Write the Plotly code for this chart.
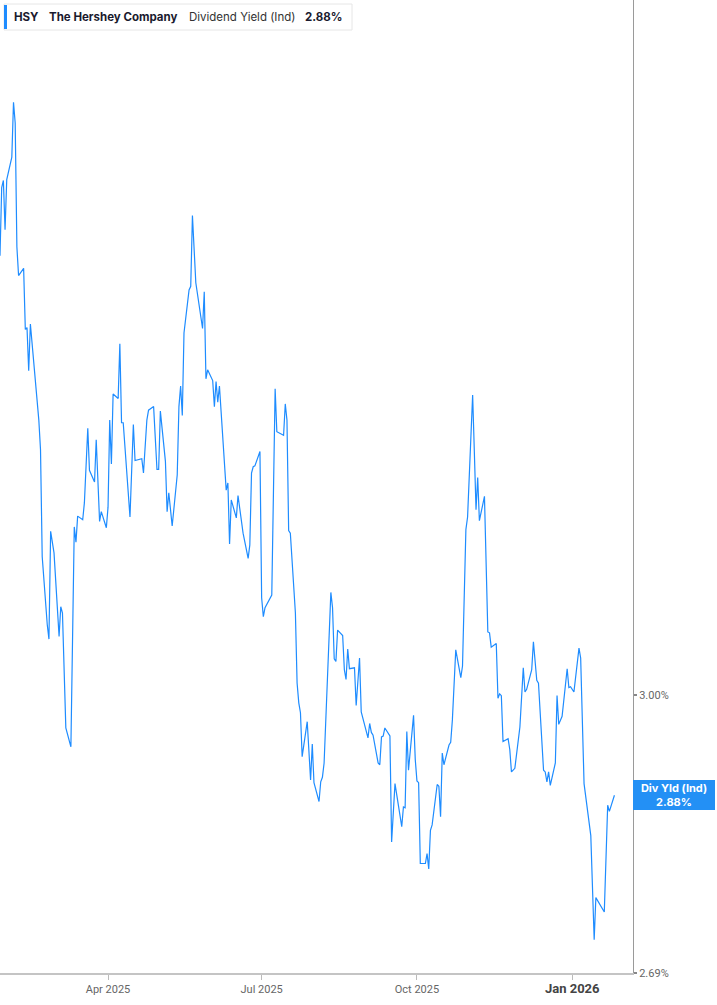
import pandas as pd
import plotly.graph_objects as go

# ---- data ----
dates = [
    "2025-01-27", "2025-01-28", "2025-01-29", "2025-01-30", "2025-01-31",
    "2025-02-03", "2025-02-04", "2025-02-05", "2025-02-06", "2025-02-07",
    "2025-02-10", "2025-02-11", "2025-02-12", "2025-02-13", "2025-02-14",
    "2025-02-18", "2025-02-19", "2025-02-20", "2025-02-21", "2025-02-24",
    "2025-02-25", "2025-02-26", "2025-02-28", "2025-03-03", "2025-03-04",
    "2025-03-05", "2025-03-07", "2025-03-10", "2025-03-12", "2025-03-13",
    "2025-03-14", "2025-03-17", "2025-03-18", "2025-03-20", "2025-03-21",
    "2025-03-24", "2025-03-25", "2025-03-27", "2025-03-28", "2025-03-31",
    "2025-04-01", "2025-04-02", "2025-04-03", "2025-04-04", "2025-04-07",
    "2025-04-08", "2025-04-09", "2025-04-10", "2025-04-14", "2025-04-16",
    "2025-04-17", "2025-04-21", "2025-04-22", "2025-04-24", "2025-04-25",
    "2025-04-28", "2025-04-30", "2025-05-01", "2025-05-02", "2025-05-05",
    "2025-05-06", "2025-05-07", "2025-05-09", "2025-05-12", "2025-05-13",
    "2025-05-14", "2025-05-15", "2025-05-16", "2025-05-19", "2025-05-20",
    "2025-05-21", "2025-05-23", "2025-05-27", "2025-05-28", "2025-05-29",
    "2025-05-30", "2025-06-02", "2025-06-03", "2025-06-04", "2025-06-05",
    "2025-06-06", "2025-06-10", "2025-06-11", "2025-06-12", "2025-06-13",
    "2025-06-16", "2025-06-17", "2025-06-20", "2025-06-23", "2025-06-24",
    "2025-06-25", "2025-06-26", "2025-06-27", "2025-06-30", "2025-07-01",
    "2025-07-02", "2025-07-03", "2025-07-07", "2025-07-09", "2025-07-10",
    "2025-07-14", "2025-07-15", "2025-07-16", "2025-07-17", "2025-07-18",
    "2025-07-21", "2025-07-22", "2025-07-23", "2025-07-24", "2025-07-25",
    "2025-07-28", "2025-07-30", "2025-07-31", "2025-08-01", "2025-08-04",
    "2025-08-05", "2025-08-06", "2025-08-07", "2025-08-11", "2025-08-12",
    "2025-08-13", "2025-08-14", "2025-08-15", "2025-08-18", "2025-08-19",
    "2025-08-20", "2025-08-21", "2025-08-22", "2025-08-25", "2025-08-26",
    "2025-08-28", "2025-08-29", "2025-09-02", "2025-09-03", "2025-09-04",
    "2025-09-05", "2025-09-08", "2025-09-09", "2025-09-10", "2025-09-11",
    "2025-09-12", "2025-09-15", "2025-09-16", "2025-09-18", "2025-09-22",
    "2025-09-23", "2025-09-24", "2025-09-25", "2025-09-26", "2025-09-29",
    "2025-09-30", "2025-10-01", "2025-10-02", "2025-10-03", "2025-10-06",
    "2025-10-07", "2025-10-08", "2025-10-09", "2025-10-10", "2025-10-13",
    "2025-10-14", "2025-10-15", "2025-10-16", "2025-10-17", "2025-10-20",
    "2025-10-21", "2025-10-22", "2025-10-24", "2025-10-27", "2025-10-28",
    "2025-10-30", "2025-10-31", "2025-11-03", "2025-11-04", "2025-11-05",
    "2025-11-06", "2025-11-07", "2025-11-10", "2025-11-11", "2025-11-12",
    "2025-11-13", "2025-11-14", "2025-11-17", "2025-11-18", "2025-11-19",
    "2025-11-20", "2025-11-21", "2025-11-24", "2025-11-25", "2025-11-26",
    "2025-11-28", "2025-12-01", "2025-12-03", "2025-12-04", "2025-12-05",
    "2025-12-08", "2025-12-09", "2025-12-11", "2025-12-12", "2025-12-15",
    "2025-12-16", "2025-12-17", "2025-12-18", "2025-12-19", "2025-12-22",
    "2025-12-23", "2025-12-24", "2025-12-26", "2025-12-29", "2025-12-30",
    "2025-12-31", "2026-01-02", "2026-01-05", "2026-01-06", "2026-01-08",
    "2026-01-12", "2026-01-14", "2026-01-15", "2026-01-20", "2026-01-22",
    "2026-01-23", "2026-01-26",
]

div_yield = [
    3.489, 3.565, 3.573, 3.518, 3.574,
    3.599, 3.660, 3.637, 3.499, 3.467,
    3.475, 3.407, 3.409, 3.361, 3.413,
    3.329, 3.306, 3.273, 3.154, 3.078,
    3.062, 3.182, 3.158, 3.065, 3.098,
    3.091, 2.963, 2.942, 3.187, 3.170,
    3.199, 3.195, 3.214, 3.297, 3.250,
    3.237, 3.284, 3.193, 3.204, 3.186,
    3.209, 3.306, 3.257, 3.335, 3.330,
    3.391, 3.303, 3.303, 3.198, 3.301,
    3.261, 3.263, 3.247, 3.306, 3.317,
    3.321, 3.251, 3.251, 3.316, 3.260,
    3.204, 3.225, 3.188, 3.245, 3.321,
    3.344, 3.311, 3.403, 3.451, 3.455,
    3.534, 3.459, 3.408, 3.449, 3.352,
    3.362, 3.350, 3.321, 3.349, 3.326,
    3.344, 3.228, 3.236, 3.168, 3.217,
    3.197, 3.222, 3.180, 3.152, 3.167,
    3.247, 3.254, 3.255, 3.271, 3.108,
    3.087, 3.097, 3.111, 3.341, 3.293,
    3.289, 3.324, 3.306, 3.183, 3.180,
    3.091, 3.013, 2.991, 2.980, 2.931,
    2.970, 2.905, 2.945, 2.902, 2.881,
    2.903, 2.908, 2.924, 3.114, 3.097,
    3.040, 3.037, 3.072, 3.066, 3.028,
    3.017, 3.051, 3.029, 3.030, 2.988,
    3.041, 2.981, 2.952, 2.968, 2.958,
    2.955, 2.924, 2.922, 2.953, 2.954,
    2.963, 2.954, 2.836, 2.901, 2.853,
    2.875, 2.874, 2.959, 2.916, 2.977,
    2.928, 2.904, 2.902, 2.812, 2.812,
    2.823, 2.806, 2.849, 2.855, 2.900,
    2.898, 2.864, 2.935, 2.922, 2.944,
    2.947, 2.972, 3.050, 3.019, 3.032,
    3.184, 3.198, 3.334, 3.271, 3.206,
    3.242, 3.194, 3.221, 3.158, 3.070,
    3.069, 3.053, 3.057, 2.996, 3.001,
    2.999, 2.948, 2.951, 2.939, 2.914,
    2.918, 2.964, 3.030, 3.003, 3.006,
    3.028, 3.059, 3.016, 3.013, 2.916,
    2.914, 2.903, 2.914, 2.899, 2.924,
    2.999, 2.967, 2.976, 3.029, 3.008,
    3.009, 3.003, 3.052, 3.041, 2.901,
    2.843, 2.727, 2.774, 2.758, 2.877,
    2.870, 2.888,
]

x_tick_vals = ["2025-04-01", "2025-07-01", "2025-10-01", "2026-01-01"]
x_tick_text = ["Apr 2025", "Jul 2025", "Oct 2025",
               "<span style='font-size:13px;color:#444'><b>Jan 2026</b></span>"]
y_tick_vals = [3.00, 2.69]
y_tick_text = ["3.00%", "2.69%"]

ticker = "HSY"
company = "The Hershey Company"
metric = "Dividend Yield (Ind)"
last_label = "2.88%"

x_range = ["2025-01-27", "2026-02-06"]
y_range = [2.69, 3.774]

LINE = "#1e8cff"

# ---- figure ----
W, H = 717, 1005
ML, MR, MT, MB = 0, 84, 0, 32
PW, PH = W - ML - MR, H - MT - MB

def px(xp):
    return xp / PW

def py(yp):
    return 1 - yp / PH

fig = go.Figure()
fig.add_trace(go.Scatter(
    x=pd.to_datetime(dates), y=div_yield, mode="lines",
    line=dict(color=LINE, width=1.2), hoverinfo="skip", showlegend=False,
))

fig.update_layout(
    width=W, height=H,
    margin=dict(l=ML, r=MR, t=MT, b=MB),
    paper_bgcolor="white", plot_bgcolor="white",
    font=dict(family="Roboto, Liberation Sans, sans-serif", color="#666", size=11),
    showlegend=False,
    xaxis=dict(
        type="date", range=x_range,
        tickvals=x_tick_vals, ticktext=x_tick_text,
        showgrid=False, zeroline=False,
        showline=True, linecolor="#c4c4c4", linewidth=2,
        ticks="outside", ticklen=5, tickcolor="#bbbbbb", tickwidth=1,
        tickfont=dict(size=11, color="#666"),
    ),
    yaxis=dict(
        side="right", range=y_range,
        tickvals=y_tick_vals, ticktext=y_tick_text,
        showgrid=False, zeroline=False,
        showline=True, linecolor="#9a9a9a", linewidth=1,
        ticks="outside", ticklen=3, tickcolor="#888", tickwidth=2,
        tickfont=dict(size=11, color="#666"),
    ),
)

# header box
fig.add_shape(type="rect", xref="paper", yref="paper",
              x0=px(4), x1=px(352), y0=py(30), y1=py(4),
              line=dict(color="#e6e6e6", width=1), fillcolor="white", layer="above")
fig.add_shape(type="rect", xref="paper", yref="paper",
              x0=px(4), x1=px(7), y0=py(29), y1=py(5),
              line=dict(width=0), fillcolor=LINE, layer="above")

hdr_font = "Inter, Roboto, sans-serif"
for xpos, txt, bold in [(12, ticker, True), (47, company, True),
                        (187, metric, False), (303, last_label, True)]:
    fig.add_annotation(
        xref="paper", yref="paper", x=px(xpos), y=py(17),
        xanchor="left", yanchor="middle", showarrow=False,
        text=f"<b>{txt}</b>" if bold else txt,
        font=dict(family=hdr_font, size=11.5, color="#1a1a2e" if bold else "#333"),
    )

# last value label on right axis
fig.add_annotation(
    xref="paper", yref="y", x=1, y=div_yield[-1],
    xanchor="left", yanchor="middle", showarrow=False,
    text=f"<b>Div Yld (Ind)</b><br><b>{last_label}</b>",
    font=dict(family=hdr_font, size=11, color="white"),
    bgcolor="#2390f5", width=82, height=30, borderpad=0, borderwidth=0,
    align="center",
)

fig.write_html(
    "out.html",
    config={"displayModeBar": False},
    post_script="document.body.style.margin='0';document.body.style.padding='0';"
                "document.documentElement.style.overflow='hidden';",
)
